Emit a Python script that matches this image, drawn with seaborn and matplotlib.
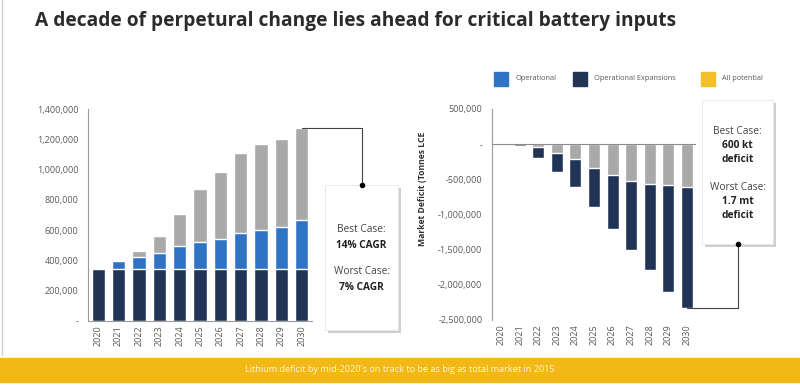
import numpy as np
import pandas as pd
import matplotlib
matplotlib.use("Agg")
import matplotlib.pyplot as plt
import matplotlib.patheffects as pe
from matplotlib.patches import Rectangle
from matplotlib.ticker import FuncFormatter
import seaborn as sns

# ============================
# Data
# ============================
years = [str(y) for y in range(2020, 2031)]

# supply, stacked: base / operational top / all potential top
supply_base = [345000, 345000, 345000, 345000, 345000, 345000, 345000, 345000, 345000, 345000, 345000]
supply_operational = [345000, 396000, 421000, 447000, 497000, 524000, 543000, 579000, 601000, 621000, 667000]
supply_all = [345000, 396000, 462000, 563000, 709000, 872000, 984000, 1107000, 1167000, 1204000, 1273000]

# market deficit: best case (grey) and worst case (dark)
deficit_best = [0, 0, -38000, -119000, -205000, -343000, -438000, -529000, -567000, -586000, -610000]
deficit_worst = [0, -25000, -200000, -390000, -610000, -895000, -1200000, -1500000, -1790000, -2100000, -2333000]

legend_labels = ["Operational", "Operational Expansions", "All potential"]

title = "A decade of perpetural change lies ahead for critical battery inputs"
banner = "Lithium deficit by mid-2020's on track to be as big as total market in 2015"

NAVY = "#213456"
BLUE = "#2f74c4"
GREY = "#a9a9a9"
YELLOW = "#f2b817"
TXT = "#595959"

sns.set_theme(style="white")
plt.rcParams["font.family"] = ["Open Sans", "DejaVu Sans"]

W, H = 800, 386
fig = plt.figure(figsize=(W / 100, H / 100), dpi=100)


def px_axes(x0, y0, x1, y1):
    # pixel box (top-left origin) -> figure fraction
    return fig.add_axes([x0 / W, 1 - y1 / H, (x1 - x0) / W, (y1 - y0) / H])


def thousands(v, pos):
    if v == 0:
        return "-"
    return f"{v:,.0f}"


df_supply = pd.DataFrame({"year": years, "base": supply_base,
                          "oper": supply_operational, "all": supply_all})
df_def = pd.DataFrame({"year": years, "best": deficit_best, "worst": deficit_worst})

# ============================
# Left: supply
# ============================
ax1 = px_axes(88, 109, 312, 321)
sns.barplot(data=df_supply, x="year", y="all", color=GREY, width=0.65,
            saturation=1, ax=ax1)
sns.barplot(data=df_supply, x="year", y="oper", color=BLUE, width=0.65,
            saturation=1, ax=ax1)
sns.barplot(data=df_supply, x="year", y="base", color=NAVY, width=0.65,
            saturation=1, ax=ax1)
ax1.set_ylim(0, 1400000)
ax1.set_yticks(np.arange(0, 1400001, 200000))
ax1.set_ylabel("")

# ============================
# Right: deficit
# ============================
ax2 = px_axes(492, 109, 696, 320)
sns.barplot(data=df_def, x="year", y="worst", color=NAVY, width=0.65,
            saturation=1, ax=ax2)
sns.barplot(data=df_def, x="year", y="best", color=GREY, width=0.65,
            saturation=1, ax=ax2)
ax2.set_ylim(-2500000, 500000)
ax2.set_yticks(np.arange(-2500000, 500001, 500000))
ax2.axhline(0, color="#8c8c8c", lw=0.8, zorder=3)
ax2.set_ylabel("Market Deficit (Tonnes LCE", fontsize=6.2, fontweight="bold",
               color="#333333")
ax2.yaxis.set_label_coords(-0.32, 0.62)

for ax in (ax1, ax2):
    ax.set_xlim(-0.5, len(years) - 0.5)
    ax.set_xlabel("")
    ax.yaxis.set_major_formatter(FuncFormatter(thousands))
    ax.tick_params(axis="both", length=0, labelsize=6.5, labelcolor=TXT, pad=7)
    ax.tick_params(axis="x", rotation=90, pad=3)
    sns.despine(ax=ax, top=True, right=True)
    for side in ("left", "bottom"):
        ax.spines[side].set_color("#9a9a9a")
        ax.spines[side].set_linewidth(0.8)
    ax.patch.set_alpha(0)
ax2.spines["bottom"].set_visible(False)

# ============================
# Overlay: title, legend, boxes, banner
# ============================
ov = fig.add_axes([0, 0, 1, 1], zorder=5)
ov.set_xlim(0, W)
ov.set_ylim(H, 0)
ov.axis("off")
ov.patch.set_alpha(0)


def to_ov(ax, x, y):
    d = ax.transData.transform((x, y))
    return ov.transData.inverted().transform(d)


# left frame line
ov.plot([2, 2], [0, 355], color="#d0d0d0", lw=1)

ov.text(35, 21, title, fontsize=13.8, fontweight="bold", color="#2b2b2b",
        va="center", ha="left")

# legend
for (lx, lab, c) in zip([494, 573, 701], legend_labels, [BLUE, NAVY, "#f5be2c"]):
    ov.add_patch(Rectangle((lx, 72), 14, 14, color=c))
    ov.text(lx + 21, 79, lab, fontsize=5.3, color=TXT, va="center", ha="left")

shadow = [pe.SimplePatchShadow(offset=(2, -2), shadow_rgbFace="#888888", alpha=0.4),
          pe.Normal()]

# left call-out box
bx, by, bw, bh = 325, 185, 73, 145
ov.add_patch(Rectangle((bx, by), bw, bh, facecolor="white", edgecolor="#e6e6e6",
                       lw=0.6, path_effects=shadow))
top2030 = to_ov(ax1, len(years) - 1, supply_all[-1])
cx = bx + bw / 2
ov.plot([top2030[0], cx, cx], [top2030[1], top2030[1], by], color="#444444", lw=0.8)
ov.plot(cx, by, "o", color="black", ms=3)
for yy, s, bold in [(230, "Best Case:", False), (245, "14% CAGR", True),
                    (272, "Worst Case:", False), (287, "7% CAGR", True)]:
    ov.text(cx, yy, s, fontsize=7.3, fontweight="bold" if bold else "normal",
            color="#222222" if bold else "#444444", ha="center", va="center")

# right call-out box
rx, ry, rw, rh = 702, 100, 71, 144
ov.add_patch(Rectangle((rx, ry), rw, rh, facecolor="white", edgecolor="#e6e6e6",
                       lw=0.6, path_effects=shadow))
bot2030 = to_ov(ax2, len(years) - 1, deficit_worst[-1])
rcx = rx + rw / 2
ov.plot([bot2030[0], rcx, rcx], [bot2030[1], bot2030[1], ry + rh], color="#444444", lw=0.8)
ov.plot(rcx, ry + rh, "o", color="black", ms=3)
for yy, s, bold in [(131, "Best Case:", False), (145, "600 kt", True), (159, "deficit", True),
                    (187, "Worst Case:", False), (201, "1.7 mt", True), (215, "deficit", True)]:
    ov.text(rcx, yy, s, fontsize=7.3, fontweight="bold" if bold else "normal",
            color="#222222" if bold else "#444444", ha="center", va="center")

# bottom banner
ov.add_patch(Rectangle((0, 358), W, 24, color=YELLOW))
ov.text(W / 2, 370, banner, fontsize=6.6, color="#fff6d5", ha="center", va="center")

fig.savefig("out.png", dpi=100)
